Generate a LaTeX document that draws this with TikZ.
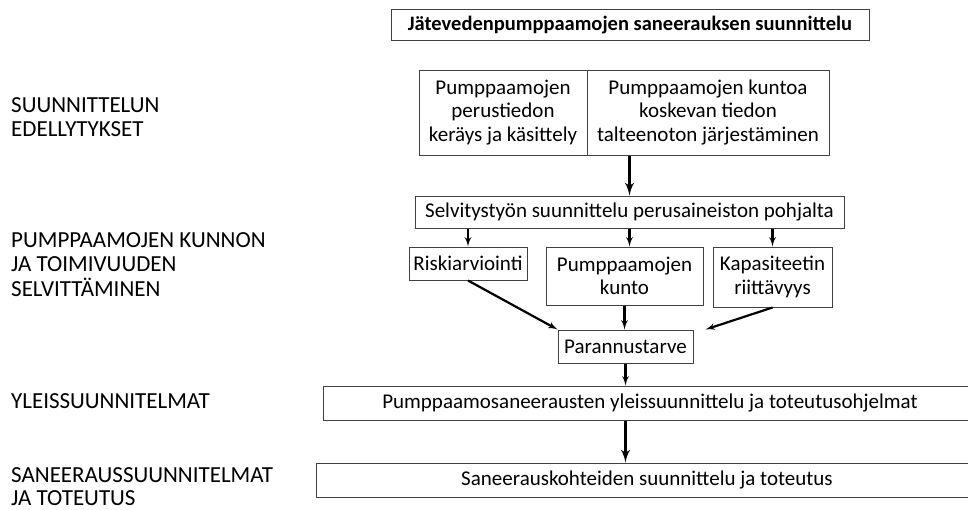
\documentclass[tikz,border=0pt]{standalone}
\usepackage{fontspec}
\setmainfont{Carlito}
\usepackage{tikz}
\usetikzlibrary{arrows}

\begin{document}
\begin{tikzpicture}[x=1pt,y=-1pt,>=latex',
    box/.style={draw=black!75,line width=1pt,inner sep=0pt,align=center,font=\fontsize{21}{23.5}\selectfont},
    phase/.style={anchor=north west,inner sep=0pt,align=left,font=\fontsize{23}{24.5}\selectfont},
    boxtext/.style={inner sep=0pt,font=\fontsize{21}{23.5}\selectfont},
    link/.style={->,line width=2.2pt},
    mainlink/.style={->,line width=3.4pt}]
  \clip (0,0) rectangle (968,509);

  % phase labels on the left
  \node[phase] (p1) at (11,97)  {SUUNNITTELUN\\EDELLYTYKSET};
  \node[phase] (p2) at (11,232) {PUMPPAAMOJEN KUNNON\\JA TOIMIVUUDEN\\SELVITTÄMINEN};
  \node[phase] (p3) at (11,393) {YLEISSUUNNITELMAT};
  \node[phase,font=\fontsize{23}{23}\selectfont] (p4) at (11,467) {SANEERAUSSUUNNITELMAT\\JA TOTEUTUS};

  % boxes
  \node[box,minimum width=478,minimum height=31,font=\bfseries\fontsize{20.5}{23}\selectfont] (title) at (630,25) {Jätevedenpumppaamojen saneerauksen suunnittelu};
  \node[box,minimum width=168,minimum height=85] (basic) at (503,112.5) {Pumppaamojen\\perustiedon\\keräys ja käsittely};
  \node[box,minimum width=242,minimum height=85] (cond)  at (708,112.5) {Pumppaamojen kuntoa\\koskevan tiedon\\talteenoton järjestäminen};
  \node[box,minimum width=429,minimum height=32] (plan)  at (629.5,212) {Selvitystyön suunnittelu perusaineiston pohjalta};
  \node[box,minimum width=118,minimum height=33] (risk)  at (468,263.5) {Riskiarviointi};
  \node[box,minimum width=157,minimum height=58] (state) at (624.5,276) {Pumppaamojen\\kunto};
  \node[box,minimum width=119,minimum height=60] (cap)   at (772.5,277) {Kapasiteetin\\riittävyys};
  \node[box,minimum width=135,minimum height=33] (need)  at (625.5,346.5) {Parannustarve};
  \node[box,minimum width=660,minimum height=34,anchor=west] (master) at (323,403) {};
  \node[boxtext] (mastertext) at (650,403) {Pumppaamosaneerausten yleissuunnittelu ja toteutusohjelmat};
  \node[box,minimum width=670,minimum height=34,anchor=west] (works) at (316,480) {};
  \node[boxtext] (workstext) at (647,480) {Saneerauskohteiden suunnittelu ja toteutus};

  % connectors
  \draw[mainlink] (cond.south -| plan.north) -- (plan.north);
  \draw[link] (plan.south -| risk.north) -- (risk.north);
  \draw[link] (plan.south) -- (plan.south |- state.north);
  \draw[link] (plan.south -| cap.north) -- (cap.north);
  \draw[link] (risk.south) -- (need.north west);
  \draw[link] (state.south) -- (state.south |- need.north);
  \draw[link] (cap.south) -- ([xshift=12]need.north east);
  \draw[link] (need.south) -- (need.south |- master.north);
  \draw[mainlink] (master.south -| need.south) -- (works.north -| need.south);
\end{tikzpicture}
\end{document}
